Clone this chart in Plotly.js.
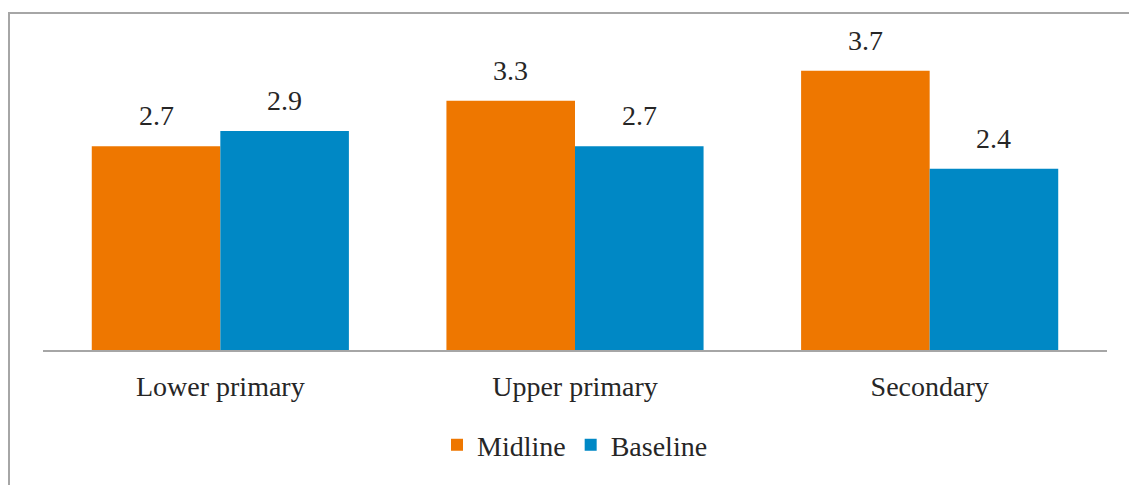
<!DOCTYPE html>
<html>
<head>
<meta charset="utf-8">
<script src="https://cdn.plot.ly/plotly-3.0.1.min.js"></script>
<style>
  html, body { margin: 0; padding: 0; background: #ffffff; overflow: hidden; }
  #frame {
    position: absolute; left: 8px; top: 12px; width: 1200px; height: 600px;
    border-top: 2px solid #a6a6a6; border-left: 2px solid #a6a6a6;
  }
  #chart { position: absolute; left: 0; top: 0; width: 1129px; height: 485px; }
</style>
</head>
<body>
<div id="frame"></div>
<div id="chart"></div>
<script>
// School levels on the x axis
const categories = ["Lower primary", "Upper primary", "Secondary"];
// Survey rounds
const midline = [2.7, 3.3, 3.7];
const baseline = [2.9, 2.7, 2.4];
const seriesNames = ["Midline", "Baseline"];
const seriesColors = ["#ee7700", "#0088c5"];

const FONT = "Liberation Serif";
const SIZE = 28;
const TEXT = "#262626";

const traces = [midline, baseline].map((vals, i) => ({
  type: "bar",
  name: seriesNames[i],
  x: categories,
  y: vals,
  marker: { color: seriesColors[i], line: { width: 0 } },
  hoverinfo: "x+y+name"
}));

// Value labels above each bar, offset to the bar's half of the group
const annotations = [];
[midline, baseline].forEach((vals, i) => {
  vals.forEach((v, j) => {
    annotations.push({
      x: categories[j], y: v, xref: "x", yref: "y",
      text: v.toFixed(1), showarrow: false,
      xanchor: "center", yanchor: "bottom",
      xshift: i === 0 ? -64.25 : 64.25, yshift: 13,
      font: { family: FONT, size: SIZE, color: TEXT }
    });
  });
});

const layout = {
  width: 1129, height: 485,
  margin: { l: 43, r: 22, t: 48, b: 135 },
  paper_bgcolor: "rgba(0,0,0,0)",
  plot_bgcolor: "rgba(0,0,0,0)",
  barmode: "group",
  bargap: 0.275,
  bargroupgap: 0,
  font: { family: FONT, size: SIZE, color: TEXT },
  xaxis: {
    type: "category",
    showline: true, linecolor: "#a6a6a6", linewidth: 2,
    ticks: "", ticklabelstandoff: 10,
    tickfont: { family: FONT, size: SIZE, color: TEXT },
    showgrid: false, zeroline: false, fixedrange: true
  },
  yaxis: {
    range: [0, 4], showticklabels: false, showgrid: false,
    zeroline: false, showline: false, fixedrange: true
  },
  showlegend: true,
  legend: {
    orientation: "h", x: 0.5, xanchor: "center", y: -0.232, yanchor: "top",
    font: { family: FONT, size: SIZE, color: TEXT },
    itemwidth: 30, tracegroupgap: 0, traceorder: "normal",
    bgcolor: "rgba(0,0,0,0)"
  },
  annotations: annotations
};

Plotly.newPlot("chart", traces, layout, { displayModeBar: false, staticPlot: true });
</script>
</body>
</html>
